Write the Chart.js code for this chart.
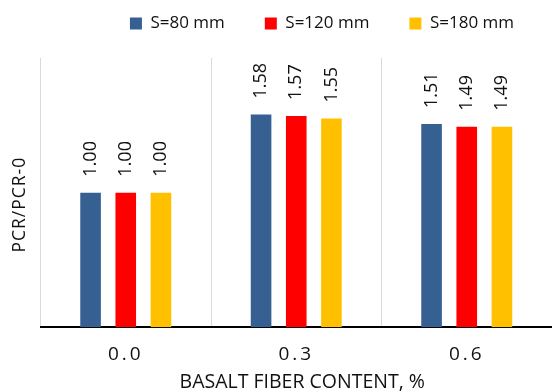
<!DOCTYPE html>
<html>
<head>
<meta charset="utf-8">
<script src="https://cdn.jsdelivr.net/npm/chart.js@4/dist/chart.umd.min.js"></script>
<style>
  html, body { margin: 0; padding: 0; background: #fff; }
  #wrap { width: 552px; height: 392px; }
</style>
</head>
<body>
<div id="wrap"><canvas id="fiberChart"></canvas></div>
<script>
// Values
const categories = ['0.0', '0.3', '0.6'];
const seriesNames = ['S=80 mm', 'S=120 mm', 'S=180 mm'];
const s80 = [1.00, 1.58, 1.51];
const s120 = [1.00, 1.57, 1.49];
const s180 = [1.00, 1.55, 1.49];
const seriesColors = ['#376092', '#ff0000', '#ffc000'];

const FONT = "'Open Sans', 'Noto Sans', sans-serif";

// rotated value labels above each bar (no datalabels plugin offline)
const barLabels = {
    id: 'barLabels',
    afterDatasetsDraw(chart) {
        const ctx = chart.ctx;
        ctx.save();
        ctx.font = '18px ' + FONT;
        ctx.fillStyle = '#111';
        ctx.textAlign = 'left';
        ctx.textBaseline = 'middle';
        chart.data.datasets.forEach((ds, i) => {
            chart.getDatasetMeta(i).data.forEach((bar, j) => {
                ctx.save();
                ctx.translate(bar.x, bar.y - 16);
                ctx.rotate(-Math.PI / 2);
                ctx.fillText(ds.data[j].toFixed(2), 0, 0);
                ctx.restore();
            });
        });
        ctx.restore();
    }
};

// Excel-ish tweaks: extra room under the legend, letter spacing on axis text
const excelLook = {
    id: 'excelLook',
    afterInit(chart) {
        const lg = chart.legend;
        const fit = lg.fit;
        lg.fit = function() {
            fit.call(this);
            this.height += 16;
        };
    },
    beforeDraw(chart) {
        const sx = chart.scales.x;
        const sy = chart.scales.y;
        if (!sx._patched) {
            const drawLabels = sx.drawLabels;
            sx.drawLabels = function(area) {
                this.ctx.save();
                this.ctx.letterSpacing = '3px';
                drawLabels.call(this, area);
                this.ctx.restore();
            };
            const drawTitleX = sx.drawTitle;
            sx.drawTitle = function() {
                this.ctx.save();
                this.ctx.translate(6, 0);
                drawTitleX.call(this);
                this.ctx.restore();
            };
            sx._patched = true;
        }
        if (!sy._patched) {
            const drawTitleY = sy.drawTitle;
            sy.drawTitle = function() {
                this.ctx.save();
                this.ctx.letterSpacing = '1px';
                this.ctx.translate(0, 12);
                drawTitleY.call(this);
                this.ctx.restore();
            };
            sy._patched = true;
        }
    }
};

const ctx = document.getElementById('fiberChart').getContext('2d');
new Chart(ctx, {
    type: 'bar',
    data: {
        labels: categories,
        datasets: [s80, s120, s180].map((d, i) => ({
            label: seriesNames[i],
            data: d,
            backgroundColor: seriesColors[i],
            borderWidth: 0,
            categoryPercentage: 0.619,
            barPercentage: 0.586
        }))
    },
    options: {
        responsive: true,
        maintainAspectRatio: false,
        animation: false,
        layout: { padding: { left: 0, right: -2, top: -25, bottom: -2 } },
        plugins: {
            legend: {
                display: true,
                position: 'top',
                align: 'end',
                labels: {
                    boxWidth: 12,
                    boxHeight: 12,
                    padding: 40,
                    color: '#111',
                    font: { size: 17, family: FONT }
                }
            },
            tooltip: { enabled: false }
        },
        scales: {
            x: {
                grid: {
                    display: true,
                    offset: true,
                    color: '#d9d9d9',
                    drawTicks: false
                },
                border: { display: true, color: '#000', width: 2 },
                ticks: {
                    color: '#111',
                    padding: 16,
                    font: { size: 19, family: FONT }
                },
                title: {
                    display: true,
                    text: 'BASALT FIBER CONTENT, %',
                    color: '#111',
                    padding: { top: -11.5, bottom: 0 },
                    font: { size: 19.5, family: FONT }
                }
            },
            y: {
                min: 0,
                max: 2,
                grid: { display: false },
                border: { display: false },
                ticks: { display: false },
                title: {
                    display: true,
                    text: 'PCR/PCR-0',
                    color: '#111',
                    padding: { top: 10, bottom: 1.5 },
                    font: { size: 17.5, family: FONT }
                }
            }
        }
    },
    plugins: [barLabels, excelLook]
});
</script>
</body>
</html>
